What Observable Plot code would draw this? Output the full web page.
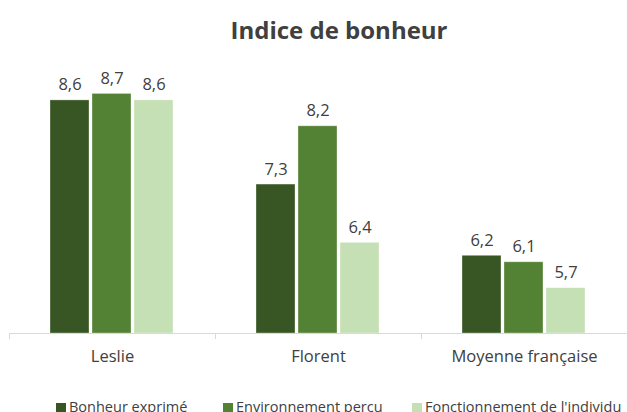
<!DOCTYPE html>
<html>
<head>
<meta charset="utf-8">
<script src="https://cdn.jsdelivr.net/npm/d3@7"></script>
<script src="https://cdn.jsdelivr.net/npm/@observablehq/plot@0.6"></script>
<style>
  html, body { margin: 0; padding: 0; background: #fff; overflow: hidden; }
  #wrap { position: relative; width: 627px; height: 412px; font-family: "Open Sans", sans-serif; }
  #title { position: absolute; left: 0; width: 678px; top: 13px; text-align: center; font-weight: bold; font-size: 24px; color: #404040; }
  .leg { position: absolute; top: 397px; font-size: 14.5px; color: #404040; white-space: nowrap; line-height: 20px; }
  .sw { position: absolute; top: 403px; width: 10px; height: 10px; }
  #chart { position: absolute; left: 0; top: 0; }
</style>
</head>
<body>
<div id="wrap">
  <div id="chart"></div>
  <div id="title">Indice de bonheur</div>
  <div id="legend"></div>
</div>
<script>
const categories = ["Leslie", "Florent", "Moyenne française"];
const series = ["Bonheur exprimé", "Environnement perçu", "Fonctionnement de l'individu"];
const colors = ["#375623", "#548235", "#c5e0b4"];
const bonheur = [8.6, 7.3, 6.2];
const environnement = [8.7, 8.2, 6.1];
const fonctionnement = [8.6, 6.4, 5.7];

const valuesBySeries = [bonheur, environnement, fonctionnement];
const data = [];
categories.forEach((c, i) => {
  series.forEach((s, j) => data.push({category: c, serie: s, value: valuesBySeries[j][i]}));
});

const fmt = v => v.toFixed(1).replace(".", ",");

const chart = Plot.plot({
  width: 627,
  height: 412,
  marginLeft: 9,
  marginRight: 0,
  marginTop: 74,
  marginBottom: 79,
  style: {fontFamily: "Open Sans, sans-serif", color: "#404040", background: "transparent"},
  fx: {domain: categories, padding: 0, label: null},
  x: {domain: series, paddingInner: 0.06, paddingOuter: 0.98, axis: null},
  y: {domain: [5, 9], axis: null},
  color: {domain: series, range: colors},
  marks: [
    Plot.barY(data, {fx: "category", x: "serie", y1: 5, y2: "value", fill: "serie", stroke: "#ffffff", strokeOpacity: 0.4, strokeWidth: 0.8}),
    Plot.text(data, {fx: "category", x: "serie", y: "value", text: d => fmt(d.value), dy: -10, lineAnchor: "bottom", fontSize: 16.5, fill: "#404040"}),
    Plot.frame({anchor: "bottom", stroke: "#d9d9d9", strokeOpacity: 1}),
    Plot.frame({anchor: "left", stroke: "#d9d9d9", strokeOpacity: 1, insetTop: 259, insetBottom: -5}),
    Plot.axisFx({anchor: "bottom", tickSize: 0, tickPadding: 17, fontSize: 16.5, label: null, fill: "#404040"})
  ]
});
document.getElementById("chart").appendChild(chart);

const legendPos = [[56, 69], [223, 236], [412, 425]];
const leg = document.getElementById("legend");
series.forEach((s, j) => {
  const sw = document.createElement("div");
  sw.className = "sw";
  sw.style.left = legendPos[j][0] + "px";
  sw.style.background = colors[j];
  leg.appendChild(sw);
  const t = document.createElement("div");
  t.className = "leg";
  t.style.left = legendPos[j][1] + "px";
  t.textContent = s;
  leg.appendChild(t);
});
</script>
</body>
</html>
